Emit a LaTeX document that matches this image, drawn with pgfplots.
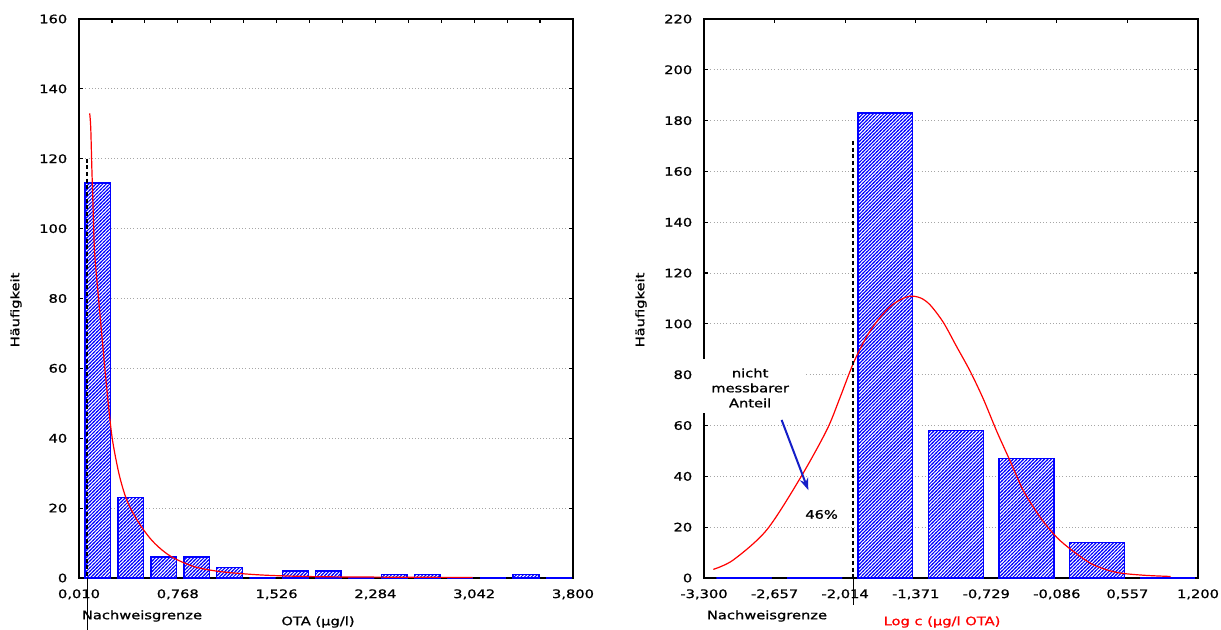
\documentclass[border=0pt]{standalone}
\usepackage{fontspec}
\setmainfont{DejaVu Sans}[FakeStretch=1.25, FakeBold=1]
\usepackage{pgfplots}
\pgfplotsset{compat=1.18}
\usetikzlibrary{patterns,arrows.meta}

\definecolor{barblue}{RGB}{0,0,255}
\definecolor{arrblue}{RGB}{20,30,200}

% blue hatching, coloured in the pattern itself
\pgfdeclarepatterninherentlycolored{bluehatch}
  {\pgfpoint{-1pt}{-1pt}}{\pgfpoint{3.6pt}{3.6pt}}{\pgfpoint{2.6pt}{2.6pt}}
  {\pgfsetcolor{barblue}\pgfsetlinewidth{0.75pt}
   \pgfpathmoveto{\pgfpoint{-0.5pt}{-0.5pt}}\pgfpathlineto{\pgfpoint{3.1pt}{3.1pt}}
   \pgfusepath{stroke}}

\pgfplotsset{histo/.style={
    scale only axis, width=370.5pt, height=419.25pt, anchor=south west,
    axis line style={line width=1.2pt},
    ymajorgrids, major grid style={dotted, gray!70, line width=0.7pt},
    tick style={black, line width=0.9pt}, major tick length=3pt,
    xtick pos=right, xticklabel pos=left,
    ytick pos=both, yticklabel pos=left,
    /pgf/number format/assume math mode=true,
    tick label style={font=\fontsize{8.8}{10.5}\selectfont},
    xticklabel style={yshift=-5pt},
    yticklabel style={xshift=-5.3pt},
    clip=false},
  bars/.style={ybar, draw=barblue, line width=1.1pt, fill=white,
    postaction={pattern=bluehatch}},
  fit/.style={red, line width=0.9pt, smooth}}
\tikzset{nwg/.style={black, line width=1.5pt, dash pattern=on 3pt off 2pt}}

\begin{document}
\begin{tikzpicture}[font=\fontsize{8.8}{10.5}\selectfont]
\useasboundingbox (0,0) rectangle (915.75pt,472.5pt);

% links: OTA in ug/l
\begin{axis}[histo, at={(59.25pt,39pt)},
    xmin=0.010, xmax=3.800, ymin=0, ymax=160,
    xtick={0.010,0.26267,0.51533,0.768,1.02067,1.27333,1.526,1.77867,2.03133,2.284,2.53667,2.78933,3.042,3.29467,3.54733,3.800},
    xticklabels={{0,010},,,{0,768},,,{1,526},,,{2,284},,,{3,042},,,{3,800}},
    ytick={0,20,...,160}]
  \addplot[bars, bar width=0.197] coordinates {
    (0.1545,113)(0.4072,23)(0.6598,6)(0.9125,6)(1.1652,3)(1.4178,0)(1.6705,2)
    (1.9232,2)(2.1758,0)(2.4285,1)(2.6812,1)(2.9338,0)(3.1865,0)(3.4392,1)(3.6918,0)};
  \addplot[fit] coordinates {
    (0.092,133)(0.100,129)(0.108,118)(0.118,106)(0.13,93)(0.16,80)(0.207,60.5)
    (0.245,46.2)(0.271,38.5)(0.322,29)(0.386,21.4)(0.488,14.7)(0.591,9.9)
    (0.718,6.1)(0.898,3.2)(1.102,1.8)(1.409,0.86)(1.793,0.4)(2.3,0.25)(3.03,0.15)};
  \draw[nwg] (axis cs:0.074,120) -- (axis cs:0.074,0);
  \draw[black, line width=0.8pt] (axis cs:0.074,0) -- ([yshift=-39pt]axis cs:0.074,0);
\end{axis}

% rechts: log c
\begin{axis}[histo, at={(528pt,39pt)},
    xmin=-3.300, xmax=1.200, ymin=0, ymax=220,
    xtick={-3.300,-2.65714,-2.01429,-1.37143,-0.72857,-0.08571,0.55714,1.200},
    xticklabels={{-3,300},{-2,657},{-2,014},{-1,371},{-0,729},{-0,086},{0,557},{1,200}},
    ytick={0,20,...,220}]
  \addplot[bars, bar width=0.50] coordinates {
    (-2.935,0)(-2.2921,0)(-1.6493,183)(-1.0064,58)(-0.3636,47)(0.2793,14)(0.9221,0)};
  \addplot[fit] coordinates {
    (-3.215,3.4)(-3.033,7.1)(-2.729,18.9)(-2.425,39.2)(-2.182,58.2)(-2.061,71)
    (-1.940,84.5)(-1.818,95)(-1.697,102.5)(-1.576,107.8)(-1.439,110.8)(-1.332,110.3)
    (-1.241,107.5)(-1.120,100.6)(-0.998,91)(-0.877,81.5)(-0.756,70.5)(-0.634,57.8)
    (-0.512,46.1)(-0.391,34.4)(-0.239,24)(-0.087,16)(0.064,10.5)(0.246,5.2)
    (0.459,2.2)(0.7,1.1)(0.95,0.6)};
  \draw[nwg] (axis cs:-1.94,172) -- (axis cs:-1.94,0);
  \draw[black, line width=0.8pt] (axis cs:-1.94,0) -- ([yshift=-20pt]axis cs:-1.94,0);
  \coordinate (wa) at (axis cs:-3.33,65);
  \coordinate (wb) at (axis cs:-2.37,86.2);
  \coordinate (tx) at (axis cs:-2.88,74.8);
  \coordinate (ar1) at (axis cs:-2.593,62.2);
  \coordinate (ar2) at (axis cs:-2.350,34.6);
  \coordinate (pc) at (axis cs:-2.229,25);
\end{axis}

\fill[white] (wa) rectangle (wb);
\node[align=center, inner sep=0pt, font=\fontsize{8.8}{11.25}\selectfont] at (tx) {nicht\\messbarer\\Anteil};
\draw[arrblue, line width=1.5pt, -{Stealth[length=9pt,width=6.5pt]}] (ar1) -- (ar2);
\node at (pc) {46\%};

\node[rotate=90] at (12pt,240pt) {Häufigkeit};
\node[rotate=90] at (480.75pt,240pt) {Häufigkeit};
\node at (106.5pt,10.5pt) {Nachweisgrenze};
\node at (238.5pt,6pt) {OTA (µg/l)};
\node at (575.25pt,10.5pt) {Nachweisgrenze};
\node[red] at (706.5pt,6pt) {Log c (µg/l OTA)};
\end{tikzpicture}
\end{document}
